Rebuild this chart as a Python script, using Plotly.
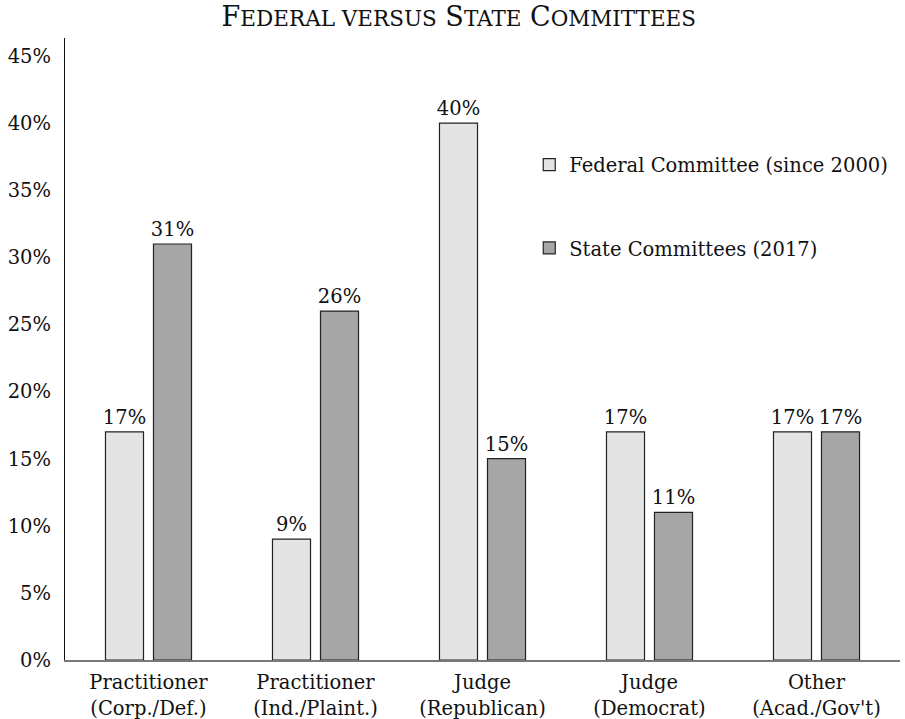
import plotly.graph_objects as go

categories = ["Practitioner<br>(Corp./Def.)", "Practitioner<br>(Ind./Plaint.)",
              "Judge<br>(Republican)", "Judge<br>(Democrat)", "Other<br>(Acad./Gov't)"]
federal = [17, 9, 40, 17, 17]
state = [31, 26, 15, 11, 17]
federal_name = "Federal Committee (since 2000)"
state_name = "State Committees (2017)"
y_ticks = [0, 5, 10, 15, 20, 25, 30, 35, 40, 45]

FONT = "DejaVu Serif"
FS = 19.5

fig = go.Figure()
fig.add_trace(go.Bar(
    x=categories, y=federal, name=federal_name,
    marker=dict(color="#e4e4e4", line=dict(color="#222222", width=1.2)),
    text=[f"{v}%" for v in federal], textposition="outside", constraintext="none",
    textfont=dict(family=FONT, size=FS, color="#111"), cliponaxis=False,
    legend="legend",
))
fig.add_trace(go.Bar(
    x=categories, y=state, name=state_name,
    marker=dict(color="#a6a6a6", line=dict(color="#222222", width=1.2)),
    text=[f"{v}%" for v in state], textposition="outside", constraintext="none",
    textfont=dict(family=FONT, size=FS, color="#111"), cliponaxis=False,
    legend="legend2",
))

title = ('F<span style="font-size:21.5px">EDERAL VERSUS</span> S'
         '<span style="font-size:21.5px">TATE</span> C'
         '<span style="font-size:21.5px">OMMITTEES</span>')

fig.update_layout(
    width=905, height=719,
    margin=dict(l=65, r=5, t=38, b=59),
    paper_bgcolor="white", plot_bgcolor="white",
    title=dict(text=title, x=0.507, xanchor="center", y=0.977, yanchor="middle",
               font=dict(family="DejaVu Serif", size=27, color="#111")),
    barmode="group", bargap=0.425, bargroupgap=0.208,
    font=dict(family=FONT, size=FS, color="#111"),
    showlegend=True,
    legend=dict(x=0.556, y=0.796, xanchor="left", yanchor="middle",
                font=dict(family=FONT, size=FS, color="#111"), bgcolor="rgba(0,0,0,0)"),
    legend2=dict(x=0.556, y=0.662, xanchor="left", yanchor="middle",
                 font=dict(family=FONT, size=FS, color="#111"), bgcolor="rgba(0,0,0,0)"),
    xaxis=dict(showline=True, linecolor="#777777", linewidth=1.5, ticks="",
               automargin=False, ticklabelstandoff=4,
               tickfont=dict(family=FONT, size=FS, color="#111"), showgrid=False),
    yaxis=dict(range=[0, 46.35], tickvals=y_ticks, ticktext=[f"{v}%" for v in y_ticks],
               showline=True, linecolor="#111111", linewidth=1.2, ticks="",
               showgrid=False, zeroline=False, automargin=False, ticklabelstandoff=9,
               tickfont=dict(family=FONT, size=FS, color="#111")),
)
fig.write_html("out.html", config={"displayModeBar": False},
               post_script="document.body.style.margin='0';document.body.style.overflow='hidden';")
